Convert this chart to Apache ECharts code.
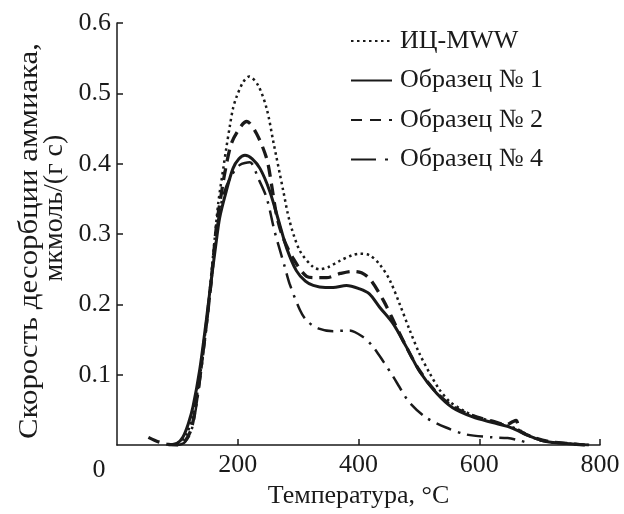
<!DOCTYPE html>
<html>
<head>
<meta charset="utf-8">
<script src="https://cdn.jsdelivr.net/npm/echarts@6/dist/echarts.min.js"></script>
<style>
  html, body { margin: 0; padding: 0; background: #fff; }
  #main { width: 624px; height: 514px; }
</style>
</head>
<body>
<div id="main"></div>
<script>
// series names
var seriesNames = ['ИЦ-MWW', 'Образец № 1', 'Образец № 2', 'Образец № 4'];

// [температура, скорость]
var mwwData = [
    [90, 0], [105, 0.005], [115, 0.015], [125, 0.04], [137, 0.095], [150, 0.19],
    [162, 0.295], [168, 0.346], [176, 0.393], [181, 0.422], [187, 0.454], [192, 0.478],
    [198, 0.495], [209, 0.516], [219, 0.524], [234, 0.511], [248, 0.478], [259, 0.431],
    [275, 0.363], [286, 0.318], [303, 0.276], [325, 0.253], [336, 0.250], [350, 0.253],
    [369, 0.262], [390, 0.270], [402, 0.272], [418, 0.270], [435, 0.257], [452, 0.234],
    [468, 0.201], [485, 0.163], [501, 0.130], [518, 0.102], [534, 0.079], [551, 0.062],
    [570, 0.051], [590, 0.042], [620, 0.034], [645, 0.028], [665, 0.022], [685, 0.012],
    [710, 0.005], [750, 0.002], [780, 0]
];
var sample1Data = [
    [85, 0], [100, 0.003], [109, 0.011], [118, 0.03], [126, 0.055], [137, 0.107],
    [148, 0.178], [156, 0.234], [163, 0.28], [170, 0.323], [181, 0.361], [192, 0.393],
    [202, 0.407], [212, 0.412], [224, 0.407], [237, 0.393], [253, 0.361], [270, 0.312],
    [281, 0.28], [297, 0.248], [312, 0.233], [325, 0.227], [345, 0.224], [358, 0.224],
    [380, 0.227], [402, 0.222], [418, 0.215], [435, 0.196], [457, 0.173], [479, 0.140],
    [501, 0.105], [529, 0.074], [556, 0.053], [589, 0.040], [622, 0.032], [645, 0.027],
    [660, 0.022], [683, 0.013], [711, 0.005], [749, 0.002], [782, 0]
];
var sample2Data = [
    [52, 0.011], [62, 0.007], [71, 0.004], [85, 0.001], [100, 0], [112, 0.005],
    [123, 0.023], [133, 0.07], [145, 0.15], [155, 0.225], [165, 0.314], [170, 0.342],
    [179, 0.389], [190, 0.43], [206, 0.454], [215, 0.46], [231, 0.443], [248, 0.407],
    [256, 0.370], [264, 0.328], [275, 0.295], [292, 0.265], [314, 0.240], [330, 0.238],
    [347, 0.238], [370, 0.244], [390, 0.247], [405, 0.245], [419, 0.236], [441, 0.206],
    [460, 0.173], [479, 0.140], [501, 0.106], [529, 0.075], [556, 0.055], [589, 0.042],
    [622, 0.034], [645, 0.029], [655, 0.033], [661, 0.035], [668, 0.02], [690, 0.011],
    [715, 0.005], [750, 0.002], [775, 0]
];
var sample4Data = [
    [100, 0], [112, 0.004], [123, 0.02], [133, 0.065], [145, 0.145], [155, 0.22],
    [165, 0.305], [175, 0.352], [187, 0.379], [203, 0.398], [220, 0.402], [234, 0.379],
    [248, 0.351], [261, 0.304], [278, 0.253], [286, 0.229], [303, 0.192], [314, 0.177],
    [333, 0.166], [358, 0.162], [385, 0.163], [407, 0.154], [424, 0.140], [441, 0.119],
    [457, 0.098], [471, 0.078], [485, 0.060], [512, 0.039], [545, 0.025], [579, 0.015],
    [622, 0.011], [647, 0.010], [669, 0.006], [685, 0.002]
];

// axis ticks
var xTicks = [0, 200, 400, 600, 800];
var yTicks = [0.1, 0.2, 0.3, 0.4, 0.5, 0.6];

var font = '"Liberation Serif", "DejaVu Serif", serif';
var ink = '#1a1a1a';

var dotted = [2.5, 3.5];
var dashed = [12, 7];
var dashDot = [16, 7, 2.5, 7];

var chartDom = document.getElementById('main');
var myChart = echarts.init(chartDom);
var option;

function line(name, data, type, width) {
    return {
        name: name,
        type: 'line',
        data: data,
        showSymbol: false,
        symbol: 'none',
        smooth: 0.3,
        lineStyle: { color: ink, width: width, type: type },
        itemStyle: { color: ink }
    };
}

option = {
    animation: false,
    backgroundColor: '#fff',
    textStyle: { fontFamily: font },
    grid: { left: 117, right: 24, top: 23, bottom: 65 },
    legend: {
        orient: 'vertical',
        left: 345,
        top: 23,
        itemWidth: 41,
        itemHeight: 14,
        itemGap: 13.5,
        itemStyle: { opacity: 0 },
        data: [
            { name: seriesNames[0] },
            { name: seriesNames[1] },
            { name: seriesNames[2], lineStyle: { type: [11, 8] } },
            { name: seriesNames[3], lineStyle: { type: [25, 9, 3, 20] } }
        ],
        textStyle: { fontFamily: font, fontSize: 26, color: ink, padding: [0, 0, 0, 3] }
    },
    xAxis: {
        type: 'value',
        min: xTicks[0],
        max: xTicks[xTicks.length - 1],
        interval: 200,
        name: 'Температура, °C',
        nameLocation: 'middle',
        nameGap: 35,
        nameTextStyle: { fontFamily: font, fontSize: 26, color: ink },
        axisLine: { lineStyle: { color: ink, width: 1.5 } },
        axisTick: { inside: true, length: 6, lineStyle: { color: ink, width: 1.5 } },
        axisLabel: { fontFamily: font, fontSize: 26, color: ink, margin: 7, showMinLabel: false },
        splitLine: { show: false }
    },
    yAxis: {
        type: 'value',
        min: 0,
        max: yTicks[yTicks.length - 1],
        interval: 0.1,
        axisLine: { show: true, lineStyle: { color: ink, width: 1.5 } },
        axisTick: { show: true, inside: true, length: 6, lineStyle: { color: ink, width: 1.5 } },
        axisLabel: { fontFamily: font, fontSize: 26, color: ink, margin: 6, showMinLabel: false },
        splitLine: { show: false }
    },
    graphic: [
        {
            type: 'text', x: 99, y: 470,
            style: { text: String(xTicks[0]), font: '26px ' + font, fill: ink, align: 'center', verticalAlign: 'middle' }
        },
        {
            type: 'text', x: 30, y: 241, rotation: Math.PI / 2, scaleX: 1.1,
            style: { text: 'Скорость десорбции аммиака,', font: '28px ' + font, fill: ink, align: 'center', verticalAlign: 'middle' }
        },
        {
            type: 'text', x: 55, y: 208, rotation: Math.PI / 2,
            style: { text: 'мкмоль/(г с)', font: '28px ' + font, fill: ink, align: 'center', verticalAlign: 'middle' }
        }
    ],
    series: [
        line(seriesNames[0], mwwData, dotted, 2.5),
        line(seriesNames[1], sample1Data, 'solid', 3),
        line(seriesNames[2], sample2Data, dashed, 3.3),
        line(seriesNames[3], sample4Data, dashDot, 2.5)
    ]
};

option && myChart.setOption(option);
</script>
</body>
</html>
